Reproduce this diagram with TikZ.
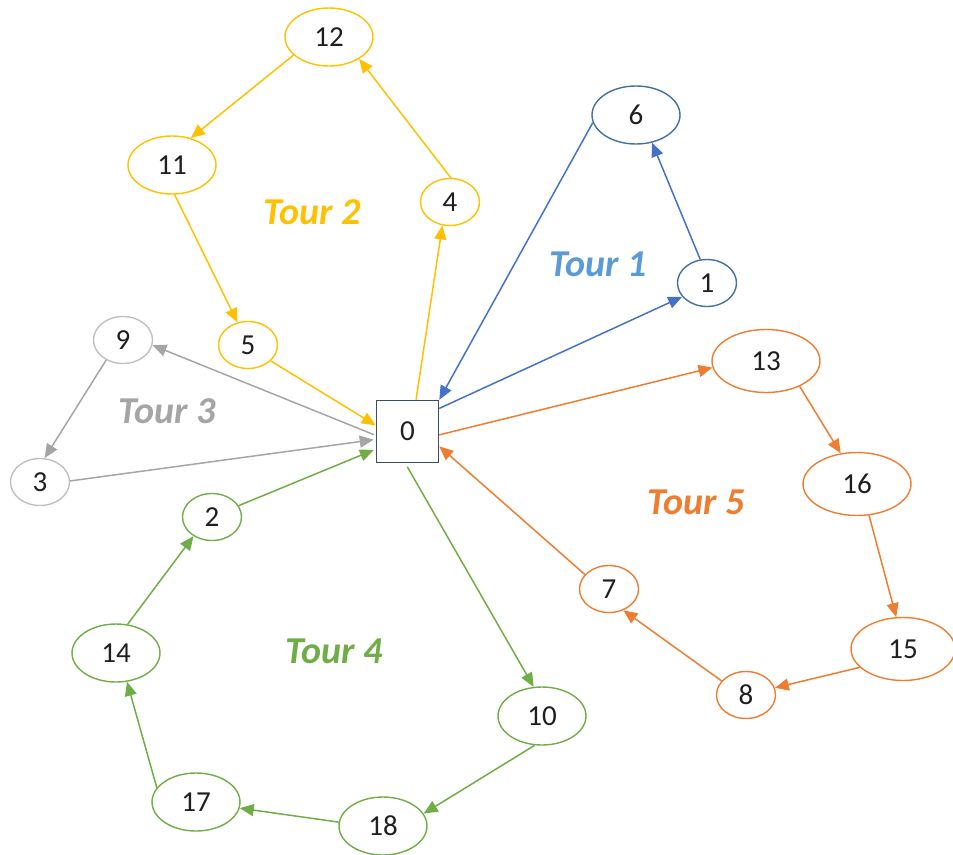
\documentclass[tikz,border=0pt]{standalone}
\usepackage{fontspec}
\setmainfont{Carlito}
\usetikzlibrary{shapes.geometric,arrows.meta}
\definecolor{tyellow}{HTML}{FFC000}
\definecolor{tblue}{HTML}{4472C4}
\definecolor{tbluenode}{HTML}{41719C}
\definecolor{tbluetext}{HTML}{5B9BD5}
\definecolor{tgray}{HTML}{A5A5A5}
\definecolor{tgraynode}{HTML}{BFBFBF}
\definecolor{tgreen}{HTML}{70AD47}
\definecolor{torange}{HTML}{ED7D31}
\definecolor{depotline}{HTML}{3E4C5E}
\begin{document}
\begin{tikzpicture}[x=1pt,y=-1pt,
  stop/.style={ellipse, draw, line width=1.4pt, inner sep=0pt,
    font=\fontsize{29}{29}\selectfont, text=black!88},
  small/.style={stop, minimum width=59pt, minimum height=47pt},
  mid/.style={stop, minimum width=88pt, minimum height=58pt},
  big/.style={stop, minimum width=108pt, minimum height=63pt},
  depot/.style={rectangle, draw=depotline, line width=1.6pt, minimum size=62pt,
    inner sep=0pt, font=\fontsize{29}{29}\selectfont, text=black!88},
  route/.style={line width=1.5pt, -{Triangle[length=14pt,width=12pt]}},
  tourlabel/.style={font=\fontsize{38}{38}\selectfont\bfseries\itshape}]
\useasboundingbox (0,0) rectangle (953,854);

% depot
\node[depot] (0) at (407.5,431.5) {0};

% customers
\node[mid, draw=tyellow]     (12) at (329,37)  {12};
\node[mid, draw=tyellow]     (11) at (172,165) {11};
\node[small, draw=tyellow]   (4)  at (450,202) {4};
\node[small, draw=tyellow]   (5)  at (248,345) {5};
\node[mid, draw=tbluenode]   (6)  at (636,115) {6};
\node[small, draw=tbluenode] (1)  at (707,283) {1};
\node[small, draw=tgraynode] (9)  at (123,340) {9};
\node[small, draw=tgraynode] (3)  at (40,482)  {3};
\node[big, draw=torange]     (13) at (766,361) {13};
\node[big, draw=torange]     (16) at (857,484) {16};
\node[big, draw=torange, minimum width=104pt] (15) at (903,649) {15};
\node[small, draw=torange]   (8)  at (746,695) {8};
\node[small, draw=torange]   (7)  at (609,589) {7};
\node[small, draw=tgreen]    (2)  at (212,517) {2};
\node[mid, draw=tgreen]      (14) at (116,653) {14};
\node[mid, draw=tgreen]      (17) at (196,802) {17};
\node[mid, draw=tgreen]      (18) at (383,826) {18};
\node[mid, draw=tgreen]      (10) at (542,716) {10};

% tour labels
\node[tourlabel, text=tbluetext] (t1) at (598,264) {Tour 1};
\node[tourlabel, text=tyellow]   (t2) at (312,212) {Tour 2};
\node[tourlabel, text=tgray]     (t3) at (167,411) {Tour 3};
\node[tourlabel, text=tgreen]    (t4) at (334,651) {Tour 4};
\node[tourlabel, text=torange]   (t5) at (696,502) {Tour 5};

% tour 1
\draw[route, tblue] (0.36) -- (1.209);
\draw[route, tblue] (1.106) -- (6.-60);
\draw[route, tblue] (6.190) -- (0.north east);

% tour 2
\draw[route, tyellow] (0.75) -- (4.252);
\draw[route, tyellow] (4.88) -- (12.-36);
\draw[route, tyellow] (12.207) -- (11.55);
\draw[route, tyellow] (11.-85) -- (5.115);
\draw[route, tyellow] (5.-35) -- (0.169);

% tour 3
\draw[route, tgray, shorten <=2pt] (0.187) -- (9.-10);
\draw[route, tgray] (9.230) -- (3.79);
\draw[route, tgray, shorten >=2pt] (3.2) -- (0.194);

% tour 4
\draw[route, tgreen, shorten >=2pt] (2.23) -- (0.209);
\draw[route, tgreen, shorten <=4pt] (0.266) -- (10.106);
\draw[route, tgreen] (10.256) -- (18.17);
\draw[route, tgreen] (18.175) -- (17.-8);
\draw[route, tgreen] (17.160) -- (14.-69);
\draw[route, tgreen] (14.68) -- (2.226);

% tour 5
\draw[route, torange] (0.-6) -- (13.187);
\draw[route, torange] (13.-37) -- (16.118);
\draw[route, torange] (16.-69) -- (15.102);
\draw[route, torange] (15.203) -- (8.14);
\draw[route, torange] (8.150) -- (7.-56);
\draw[route, torange] (7.149) -- (0.-25);
\end{tikzpicture}
\end{document}
